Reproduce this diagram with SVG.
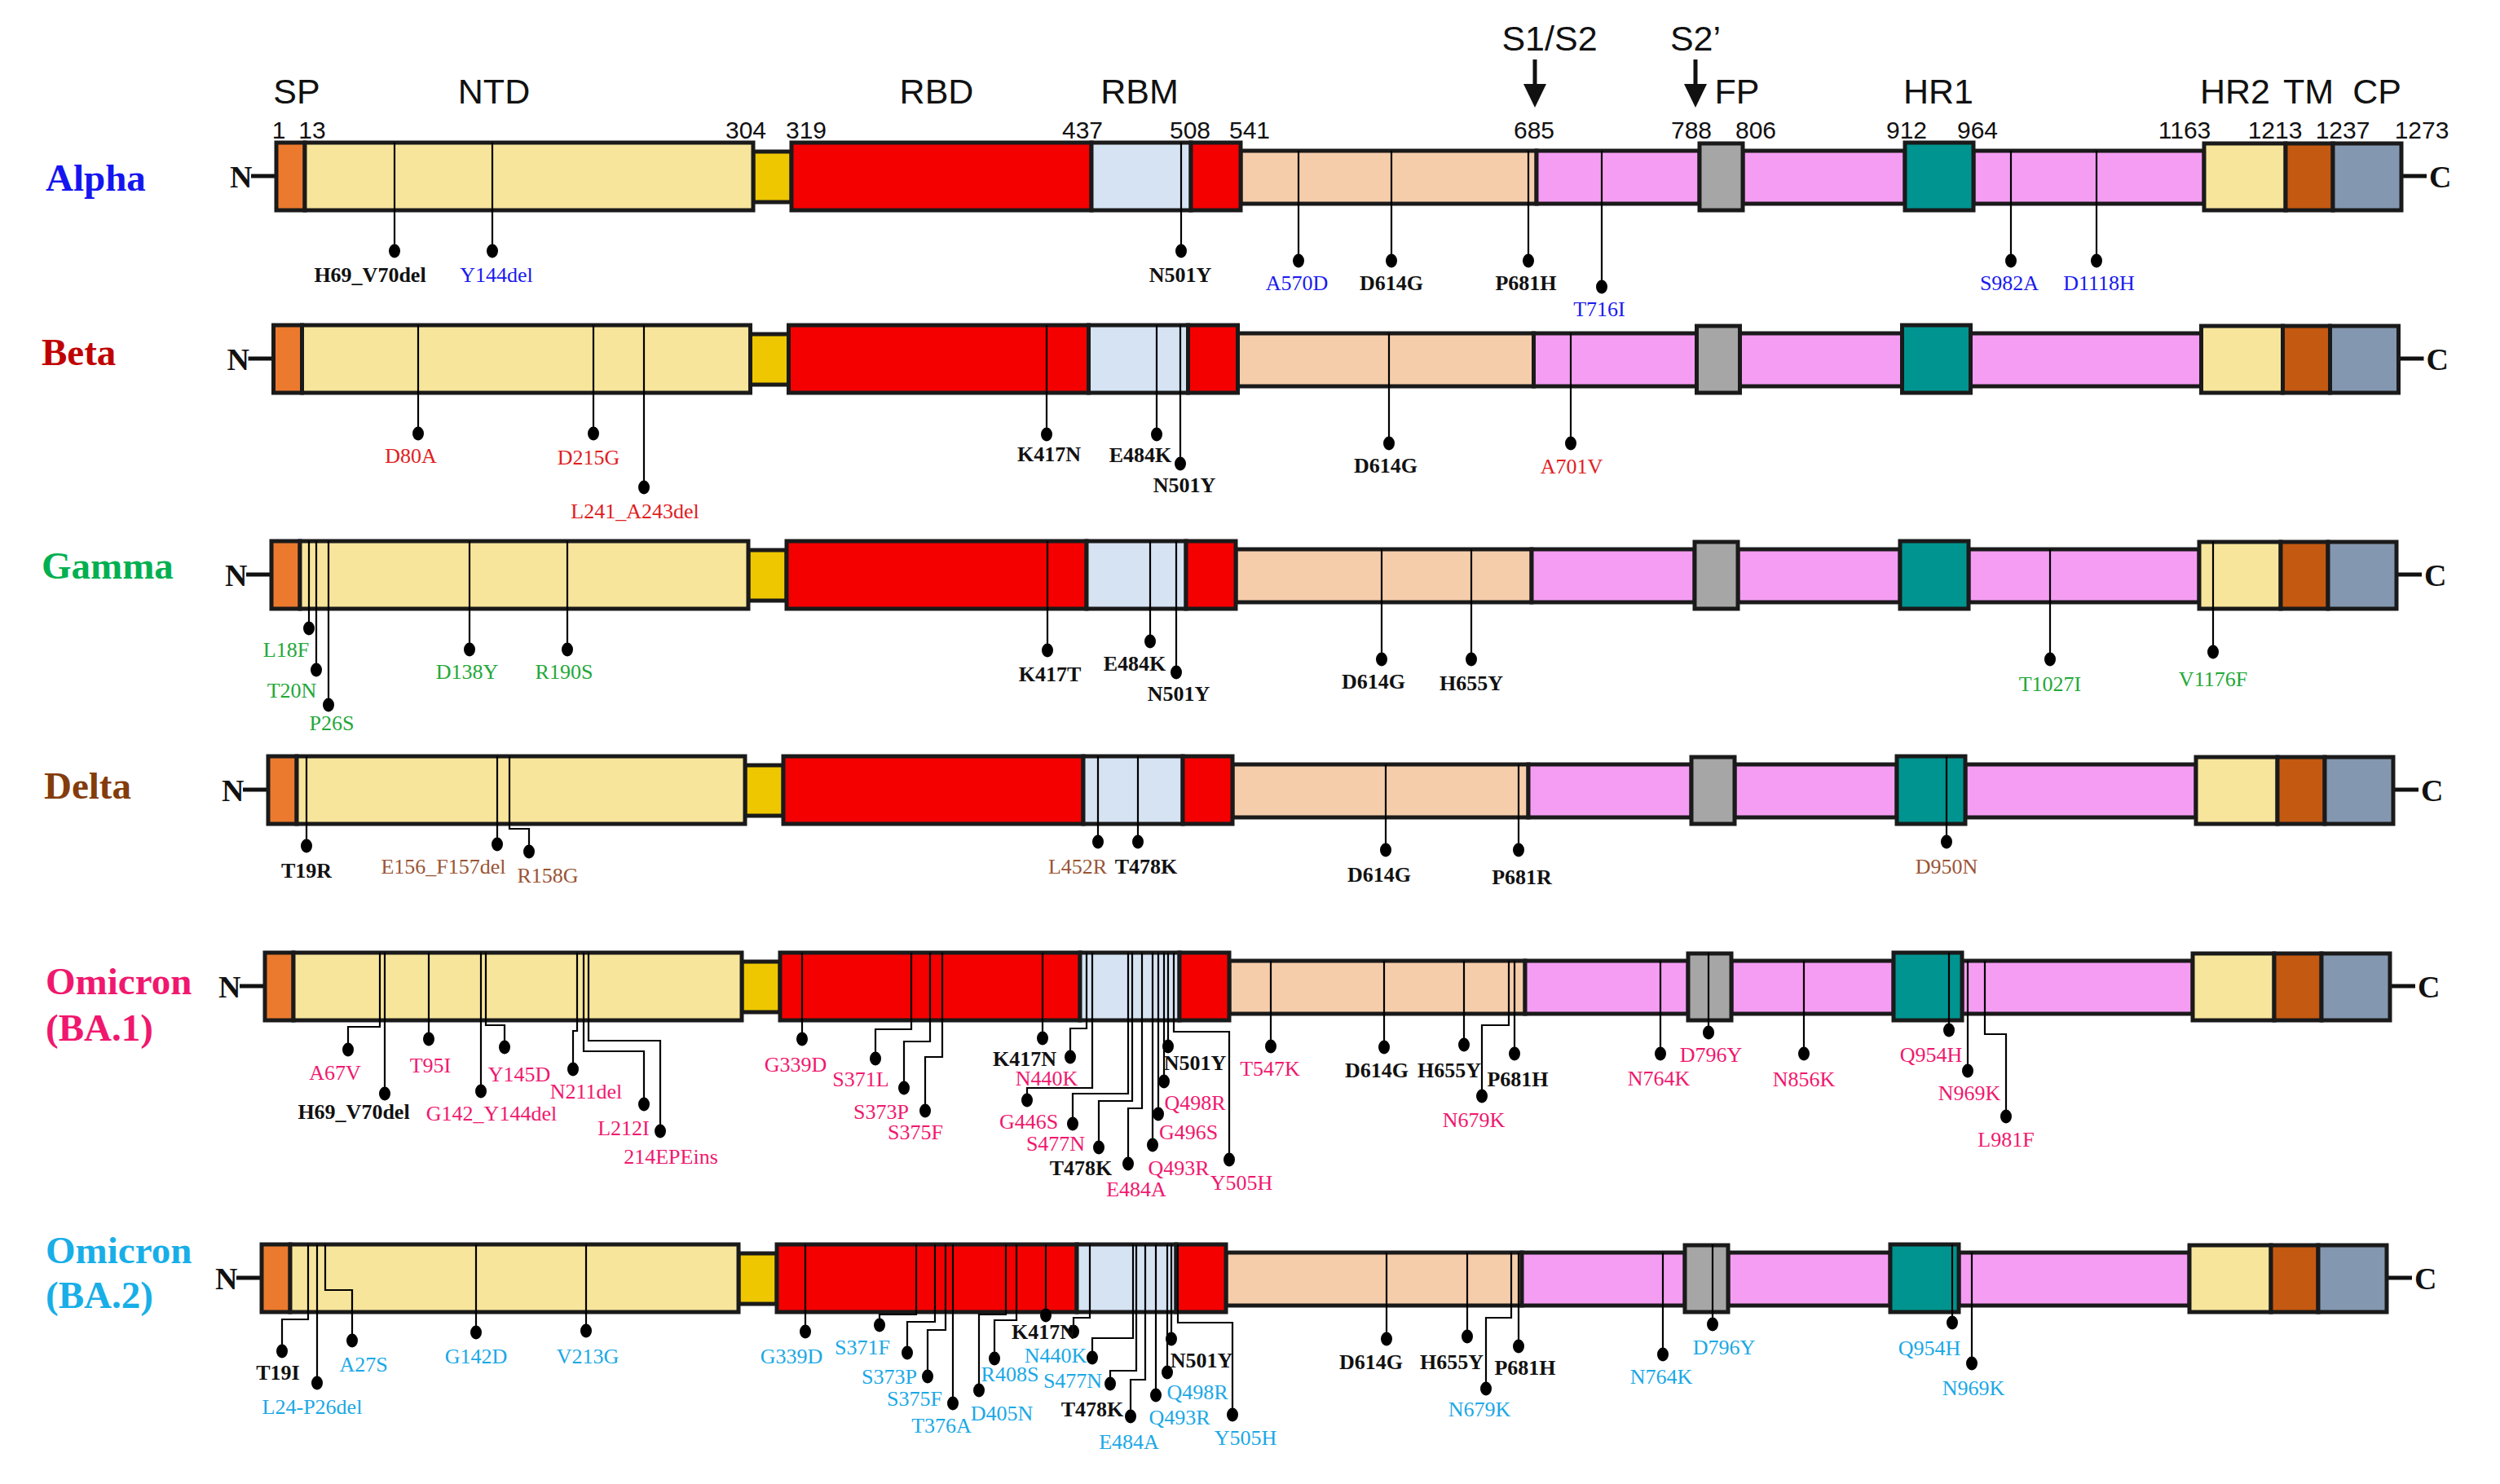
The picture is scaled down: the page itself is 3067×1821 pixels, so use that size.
<svg xmlns="http://www.w3.org/2000/svg" xmlns:xlink="http://www.w3.org/1999/xlink" width="3067" height="1821" viewBox="0 0 3067 1821">
<style>
.seg{stroke:#1a1a1a;stroke-width:5}
.sp{fill:#EC7A2E}.ntd{fill:#F7E59B}.lnk{fill:#EEC700}.rbd{fill:#F40000}.rbm{fill:#D5E3F3}.pch{fill:#F6CDAB}.pnk{fill:#F59DF3}.fp{fill:#A6A6A6}.hr1{fill:#009490}.tm{fill:#C45911}.cp{fill:#8497B0}
.nc{font-family:"Liberation Serif",serif;font-weight:bold;font-size:38px;fill:#111}
.hd{font-family:"Liberation Sans",Arial,sans-serif;font-size:43px;fill:#111;text-anchor:middle}
.num{font-family:"Liberation Sans",Arial,sans-serif;font-size:30px;fill:#111;text-anchor:middle}
.title{font-family:"Liberation Serif",serif;font-weight:bold;font-size:47px}
.ml{fill:none;stroke:#000;stroke-width:2.2}
.lb{font-family:"Liberation Serif",serif;font-size:26px;text-anchor:middle}
.bk{font-weight:bold;fill:#111}
.blu{fill:#1a1aee}.red{fill:#e0201e}.grn{fill:#22a838}.brn{fill:#9a5535}.pk{fill:#f0186e}.cy{fill:#1aa8e6}
</style>
<defs>
<g id="spike">
<line x1="308" y1="41" x2="339" y2="41" stroke="#111" stroke-width="5"/>
<text class="nc" x="282" y="55">N</text>
<line x1="2946" y1="41" x2="2977" y2="41" stroke="#111" stroke-width="5"/>
<text class="nc" x="2980" y="55">C</text>
<rect class="seg lnk" x="924" y="11" width="47" height="62"/>
<rect class="seg pch" x="1522" y="10" width="363" height="65"/>
<rect class="seg pnk" x="1885" y="10" width="200" height="65"/>
<rect class="seg pnk" x="2138" y="10" width="199" height="65"/>
<rect class="seg pnk" x="2421" y="10" width="283" height="65"/>
<rect class="seg sp" x="339" y="0" width="35" height="83"/>
<rect class="seg ntd" x="374" y="0" width="550" height="83"/>
<rect class="seg rbd" x="971" y="0" width="368" height="83"/>
<rect class="seg rbm" x="1339" y="0" width="122" height="83"/>
<rect class="seg rbd" x="1461" y="0" width="61" height="83"/>
<rect class="seg fp" x="2085" y="1" width="53" height="82"/>
<rect class="seg hr1" x="2337" y="0" width="84" height="83"/>
<rect class="seg ntd" x="2704" y="1" width="100" height="82"/>
<rect class="seg tm" x="2804" y="1" width="58" height="82"/>
<rect class="seg cp" x="2862" y="1" width="84" height="82"/>
</g>
</defs>
<rect width="3067" height="1821" fill="#fff"/>

<g id="header">
<text class="hd" x="1901" y="62">S1/S2</text>
<text class="hd" x="2080" y="62">S2’</text>
<line x1="1883" y1="73" x2="1883" y2="108" stroke="#111" stroke-width="5"/>
<polygon points="1869,103 1897,103 1883,132" fill="#111"/>
<line x1="2080" y1="73" x2="2080" y2="108" stroke="#111" stroke-width="5"/>
<polygon points="2066,103 2094,103 2080,132" fill="#111"/>
<text class="hd" x="364" y="127">SP</text>
<text class="hd" x="606" y="127">NTD</text>
<text class="hd" x="1149" y="127">RBD</text>
<text class="hd" x="1398" y="127">RBM</text>
<text class="hd" x="2131" y="127">FP</text>
<text class="hd" x="2378" y="127">HR1</text>
<text class="hd" x="2742" y="127">HR2</text>
<text class="hd" x="2832" y="127">TM</text>
<text class="hd" x="2916" y="127">CP</text>
<text class="num" x="342" y="170">1</text>
<text class="num" x="383" y="170">13</text>
<text class="num" x="915" y="170">304</text>
<text class="num" x="989" y="170">319</text>
<text class="num" x="1328" y="170">437</text>
<text class="num" x="1460" y="170">508</text>
<text class="num" x="1533" y="170">541</text>
<text class="num" x="1882" y="170">685</text>
<text class="num" x="2075" y="170">788</text>
<text class="num" x="2154" y="170">806</text>
<text class="num" x="2339" y="170">912</text>
<text class="num" x="2426" y="170">964</text>
<text class="num" x="2680" y="170">1163</text>
<text class="num" x="2791" y="170">1213</text>
<text class="num" x="2874" y="170">1237</text>
<text class="num" x="2971" y="170">1273</text>
</g>

<g id="row-alpha">
<text class="title" x="56" y="234" fill="#1515f0">Alpha</text>
<use xlink:href="#spike" href="#spike" transform="translate(0,175)"/>
</g>
<g id="row-beta">
<text class="title" x="51" y="448" fill="#c00000">Beta</text>
<use xlink:href="#spike" href="#spike" transform="translate(-3.5,399)"/>
</g>
<g id="row-gamma">
<text class="title" x="51" y="710" fill="#00b050">Gamma</text>
<use xlink:href="#spike" href="#spike" transform="translate(-6,664)"/>
</g>
<g id="row-delta">
<text class="title" x="54" y="980" fill="#843c0c">Delta</text>
<use xlink:href="#spike" href="#spike" transform="translate(-10,928)"/>
</g>
<g id="row-ba1">
<text class="title" x="56" y="1220" fill="#f0186e">Omicron</text>
<text class="title" x="56" y="1277" fill="#f0186e">(BA.1)</text>
<use xlink:href="#spike" href="#spike" transform="translate(-14,1169)"/>
</g>
<g id="row-ba2">
<text class="title" x="56" y="1550" fill="#18aee8">Omicron</text>
<text class="title" x="56" y="1605" fill="#18aee8">(BA.2)</text>
<use xlink:href="#spike" href="#spike" transform="translate(-18,1527)"/>
</g>

<g id="connectors">
<g class="ml">
<!-- Alpha -->
<path d="M484,175V308M604,175V308M1449,175V308M1593,185V320M1707,185V320M1875,185V320M1965,185V352M2467,185V320M2572,185V320"/>
<!-- Beta -->
<path d="M513,399V532M728,399V532M790,399V598M1284,399V533M1419,399V533M1448,399V569M1704,409V544M1927,409V544"/>
<!-- Gamma -->
<path d="M379,664V771M388,664V822M403,664V865M576,664V797M696,664V797M1285,664V798M1411,664V787M1443,664V825M1695,674V809M1805,674V809M2515,674V809M2715,664V800"/>
<!-- Delta -->
<path d="M376,928V1038M610,928V1036M625,928V1017H649V1045M1347,928V1033M1396,928V1033M1700,938V1043M1863,938V1043M2388,928V1033"/>
<!-- BA.1 -->
<path d="M466,1169V1260H427V1288M472,1169V1342M526,1169V1275M590,1169V1339M596,1169V1258H619V1285M708,1169V1265H703V1312M716,1169V1290H790V1355M722,1169V1277H810V1388"/>
<path d="M984,1169V1275M1118,1169V1263H1074V1299M1141,1169V1278H1109V1335M1156,1169V1297H1135V1363M1279,1169V1274M1333,1169V1262H1313V1297M1340,1169V1335H1260V1350M1384,1169V1342H1316V1379M1389,1169V1351H1348V1408M1401,1169V1360H1384V1428M1414,1169V1405M1421,1169V1367M1428,1169V1327M1433,1169V1284M1440,1169V1266H1508V1423"/>
<path d="M1559,1179V1284M1698,1179V1285M1796,1179V1282M1851,1179V1258H1818V1345M1858,1179V1293M2037,1179V1293M2096,1169V1267M2213,1179V1293M2391,1169V1264M2414,1179V1314M2435,1179V1269H2461V1370"/>
<!-- BA.2 -->
<path d="M378,1527V1619H346V1658M389,1527V1697M399,1527V1583H432V1645M584,1527V1635M719,1527V1633"/>
<path d="M988,1527V1634M1124,1527V1613H1079V1626M1147,1527V1622H1113V1660M1160,1527V1632H1138V1689M1169,1527V1722M1234,1527V1613H1201V1706M1247,1527V1620H1220V1667M1283,1527V1614M1337,1527V1617H1317V1634M1390,1527V1642H1340V1666M1394,1527V1682H1362V1698M1405,1527V1693H1387V1738M1418,1527V1712M1432,1527V1684M1437,1527V1643M1445,1527V1623H1512V1736"/>
<path d="M1701,1537V1643M1800,1537V1640M1854,1537V1617H1823V1704M1863,1537V1652M2040,1537V1662M2101,1527V1625M2395,1527V1623M2419,1537V1673"/>
</g>
<g fill="#000">
<ellipse cx="484" cy="308" rx="7" ry="8.5"/><ellipse cx="604" cy="308" rx="7" ry="8.5"/><ellipse cx="1449" cy="308" rx="7" ry="8.5"/><ellipse cx="1593" cy="320" rx="7" ry="8.5"/><ellipse cx="1707" cy="320" rx="7" ry="8.5"/><ellipse cx="1875" cy="320" rx="7" ry="8.5"/><ellipse cx="1965" cy="352" rx="7" ry="8.5"/><ellipse cx="2467" cy="320" rx="7" ry="8.5"/><ellipse cx="2572" cy="320" rx="7" ry="8.5"/>
<ellipse cx="513" cy="532" rx="7" ry="8.5"/><ellipse cx="728" cy="532" rx="7" ry="8.5"/><ellipse cx="790" cy="598" rx="7" ry="8.5"/><ellipse cx="1284" cy="533" rx="7" ry="8.5"/><ellipse cx="1419" cy="533" rx="7" ry="8.5"/><ellipse cx="1448" cy="569" rx="7" ry="8.5"/><ellipse cx="1704" cy="544" rx="7" ry="8.5"/><ellipse cx="1927" cy="544" rx="7" ry="8.5"/>
<ellipse cx="379" cy="771" rx="7" ry="8.5"/><ellipse cx="388" cy="822" rx="7" ry="8.5"/><ellipse cx="403" cy="865" rx="7" ry="8.5"/><ellipse cx="576" cy="797" rx="7" ry="8.5"/><ellipse cx="696" cy="797" rx="7" ry="8.5"/><ellipse cx="1285" cy="798" rx="7" ry="8.5"/><ellipse cx="1411" cy="787" rx="7" ry="8.5"/><ellipse cx="1443" cy="825" rx="7" ry="8.5"/><ellipse cx="1695" cy="809" rx="7" ry="8.5"/><ellipse cx="1805" cy="809" rx="7" ry="8.5"/><ellipse cx="2515" cy="809" rx="7" ry="8.5"/><ellipse cx="2715" cy="800" rx="7" ry="8.5"/>
<ellipse cx="376" cy="1038" rx="7" ry="8.5"/><ellipse cx="610" cy="1036" rx="7" ry="8.5"/><ellipse cx="649" cy="1045" rx="7" ry="8.5"/><ellipse cx="1347" cy="1033" rx="7" ry="8.5"/><ellipse cx="1396" cy="1033" rx="7" ry="8.5"/><ellipse cx="1700" cy="1043" rx="7" ry="8.5"/><ellipse cx="1863" cy="1043" rx="7" ry="8.5"/><ellipse cx="2388" cy="1033" rx="7" ry="8.5"/>
<ellipse cx="427" cy="1288" rx="7" ry="8.5"/><ellipse cx="472" cy="1342" rx="7" ry="8.5"/><ellipse cx="526" cy="1275" rx="7" ry="8.5"/><ellipse cx="590" cy="1339" rx="7" ry="8.5"/><ellipse cx="619" cy="1285" rx="7" ry="8.5"/><ellipse cx="703" cy="1312" rx="7" ry="8.5"/><ellipse cx="790" cy="1355" rx="7" ry="8.5"/><ellipse cx="810" cy="1388" rx="7" ry="8.5"/>
<ellipse cx="984" cy="1275" rx="7" ry="8.5"/><ellipse cx="1074" cy="1299" rx="7" ry="8.5"/><ellipse cx="1109" cy="1335" rx="7" ry="8.5"/><ellipse cx="1135" cy="1363" rx="7" ry="8.5"/><ellipse cx="1279" cy="1274" rx="7" ry="8.5"/><ellipse cx="1313" cy="1297" rx="7" ry="8.5"/><ellipse cx="1260" cy="1350" rx="7" ry="8.5"/><ellipse cx="1316" cy="1379" rx="7" ry="8.5"/><ellipse cx="1348" cy="1408" rx="7" ry="8.5"/><ellipse cx="1384" cy="1428" rx="7" ry="8.5"/><ellipse cx="1414" cy="1405" rx="7" ry="8.5"/><ellipse cx="1421" cy="1367" rx="7" ry="8.5"/><ellipse cx="1428" cy="1327" rx="7" ry="8.5"/><ellipse cx="1433" cy="1284" rx="7" ry="8.5"/><ellipse cx="1508" cy="1423" rx="7" ry="8.5"/>
<ellipse cx="1559" cy="1284" rx="7" ry="8.5"/><ellipse cx="1698" cy="1285" rx="7" ry="8.5"/><ellipse cx="1796" cy="1282" rx="7" ry="8.5"/><ellipse cx="1818" cy="1345" rx="7" ry="8.5"/><ellipse cx="1858" cy="1293" rx="7" ry="8.5"/><ellipse cx="2037" cy="1293" rx="7" ry="8.5"/><ellipse cx="2096" cy="1267" rx="7" ry="8.5"/><ellipse cx="2213" cy="1293" rx="7" ry="8.5"/><ellipse cx="2391" cy="1264" rx="7" ry="8.5"/><ellipse cx="2414" cy="1314" rx="7" ry="8.5"/><ellipse cx="2461" cy="1370" rx="7" ry="8.5"/>
<ellipse cx="346" cy="1658" rx="7" ry="8.5"/><ellipse cx="389" cy="1697" rx="7" ry="8.5"/><ellipse cx="432" cy="1645" rx="7" ry="8.5"/><ellipse cx="584" cy="1635" rx="7" ry="8.5"/><ellipse cx="719" cy="1633" rx="7" ry="8.5"/>
<ellipse cx="988" cy="1634" rx="7" ry="8.5"/><ellipse cx="1079" cy="1626" rx="7" ry="8.5"/><ellipse cx="1113" cy="1660" rx="7" ry="8.5"/><ellipse cx="1138" cy="1689" rx="7" ry="8.5"/><ellipse cx="1169" cy="1722" rx="7" ry="8.5"/><ellipse cx="1201" cy="1706" rx="7" ry="8.5"/><ellipse cx="1220" cy="1667" rx="7" ry="8.5"/><ellipse cx="1283" cy="1614" rx="7" ry="8.5"/><ellipse cx="1317" cy="1634" rx="7" ry="8.5"/><ellipse cx="1340" cy="1666" rx="7" ry="8.5"/><ellipse cx="1362" cy="1698" rx="7" ry="8.5"/><ellipse cx="1387" cy="1738" rx="7" ry="8.5"/><ellipse cx="1418" cy="1712" rx="7" ry="8.5"/><ellipse cx="1432" cy="1684" rx="7" ry="8.5"/><ellipse cx="1437" cy="1643" rx="7" ry="8.5"/><ellipse cx="1512" cy="1736" rx="7" ry="8.5"/>
<ellipse cx="1701" cy="1643" rx="7" ry="8.5"/><ellipse cx="1800" cy="1640" rx="7" ry="8.5"/><ellipse cx="1823" cy="1704" rx="7" ry="8.5"/><ellipse cx="1863" cy="1652" rx="7" ry="8.5"/><ellipse cx="2040" cy="1662" rx="7" ry="8.5"/><ellipse cx="2101" cy="1625" rx="7" ry="8.5"/><ellipse cx="2395" cy="1623" rx="7" ry="8.5"/><ellipse cx="2419" cy="1673" rx="7" ry="8.5"/>
</g>
</g>

<g id="labels-alpha" class="lb">
<text class="bk" x="454" y="346">H69_V70del</text>
<text class="blu" x="609" y="346">Y144del</text>
<text class="bk" x="1448" y="346">N501Y</text>
<text class="blu" x="1591" y="356">A570D</text>
<text class="bk" x="1707" y="356">D614G</text>
<text class="bk" x="1872" y="356">P681H</text>
<text class="blu" x="1962" y="388">T716I</text>
<text class="blu" x="2465" y="356">S982A</text>
<text class="blu" x="2575" y="356">D1118H</text>
</g>
<g id="labels-beta" class="lb">
<text class="red" x="504" y="568">D80A</text>
<text class="red" x="722" y="570">D215G</text>
<text class="red" x="779" y="636">L241_A243del</text>
<text class="bk" x="1287" y="566">K417N</text>
<text class="bk" x="1399" y="567">E484K</text>
<text class="bk" x="1453" y="604">N501Y</text>
<text class="bk" x="1700" y="580">D614G</text>
<text class="red" x="1928" y="581">A701V</text>
</g>
<g id="labels-gamma" class="lb">
<text class="grn" x="351" y="806">L18F</text>
<text class="grn" x="358" y="856">T20N</text>
<text class="grn" x="407" y="896">P26S</text>
<text class="grn" x="573" y="833">D138Y</text>
<text class="grn" x="692" y="833">R190S</text>
<text class="bk" x="1288" y="836">K417T</text>
<text class="bk" x="1392" y="823">E484K</text>
<text class="bk" x="1446" y="860">N501Y</text>
<text class="bk" x="1685" y="845">D614G</text>
<text class="bk" x="1805" y="847">H655Y</text>
<text class="grn" x="2515" y="848">T1027I</text>
<text class="grn" x="2715" y="842">V1176F</text>
</g>
<g id="labels-delta" class="lb">
<text class="bk" x="376" y="1077">T19R</text>
<text class="brn" x="544" y="1072">E156_F157del</text>
<text class="brn" x="672" y="1083">R158G</text>
<text class="brn" x="1322" y="1072">L452R</text>
<text class="bk" x="1406" y="1072">T478K</text>
<text class="bk" x="1692" y="1082">D614G</text>
<text class="bk" x="1867" y="1085">P681R</text>
<text class="brn" x="2388" y="1072">D950N</text>
</g>
<g id="labels-ba1" class="lb">
<text class="pk" x="411" y="1325">A67V</text>
<text class="bk" x="434" y="1373">H69_V70del</text>
<text class="pk" x="528" y="1316">T95I</text>
<text class="pk" x="603" y="1375">G142_Y144del</text>
<text class="pk" x="637" y="1327">Y145D</text>
<text class="pk" x="719" y="1348">N211del</text>
<text class="pk" x="765" y="1393">L212I</text>
<text class="pk" x="823" y="1428">214EPEins</text>
<text class="pk" x="976" y="1315">G339D</text>
<text class="pk" x="1056" y="1333">S371L</text>
<text class="pk" x="1081" y="1373">S373P</text>
<text class="pk" x="1123" y="1398">S375F</text>
<text class="bk" x="1257" y="1308">K417N</text>
<text class="pk" x="1284" y="1332">N440K</text>
<text class="pk" x="1262" y="1385">G446S</text>
<text class="pk" x="1295" y="1412">S477N</text>
<text class="bk" x="1326" y="1442">T478K</text>
<text class="pk" x="1394" y="1468">E484A</text>
<text class="pk" x="1446" y="1442">Q493R</text>
<text class="pk" x="1458" y="1398">G496S</text>
<text class="pk" x="1466" y="1362">Q498R</text>
<text class="bk" x="1466" y="1313">N501Y</text>
<text class="pk" x="1523" y="1460">Y505H</text>
<text class="pk" x="1558" y="1320">T547K</text>
<text class="bk" x="1689" y="1322">D614G</text>
<text class="bk" x="1778" y="1322">H655Y</text>
<text class="pk" x="1808" y="1383">N679K</text>
<text class="bk" x="1862" y="1333">P681H</text>
<text class="pk" x="2035" y="1332">N764K</text>
<text class="pk" x="2099" y="1303">D796Y</text>
<text class="pk" x="2213" y="1333">N856K</text>
<text class="pk" x="2369" y="1303">Q954H</text>
<text class="pk" x="2416" y="1350">N969K</text>
<text class="pk" x="2461" y="1407">L981F</text>
</g>
<g id="labels-ba2" class="lb">
<text class="bk" x="341" y="1693">T19I</text>
<text class="cy" x="383" y="1735">L24-P26del</text>
<text class="cy" x="446" y="1683">A27S</text>
<text class="cy" x="584" y="1673">G142D</text>
<text class="cy" x="721" y="1673">V213G</text>
<text class="cy" x="971" y="1673">G339D</text>
<text class="cy" x="1058" y="1662">S371F</text>
<text class="cy" x="1091" y="1698">S373P</text>
<text class="cy" x="1122" y="1725">S375F</text>
<text class="cy" x="1155" y="1758">T376A</text>
<text class="cy" x="1229" y="1743">D405N</text>
<text class="cy" x="1239" y="1695">R408S</text>
<text class="bk" x="1280" y="1643">K417N</text>
<text class="cy" x="1295" y="1672">N440K</text>
<text class="cy" x="1316" y="1703">S477N</text>
<text class="bk" x="1340" y="1738">T478K</text>
<text class="cy" x="1385" y="1778">E484A</text>
<text class="cy" x="1447" y="1748">Q493R</text>
<text class="cy" x="1469" y="1717">Q498R</text>
<text class="bk" x="1474" y="1678">N501Y</text>
<text class="cy" x="1528" y="1773">Y505H</text>
<text class="bk" x="1682" y="1680">D614G</text>
<text class="bk" x="1781" y="1680">H655Y</text>
<text class="cy" x="1815" y="1738">N679K</text>
<text class="bk" x="1871" y="1687">P681H</text>
<text class="cy" x="2038" y="1698">N764K</text>
<text class="cy" x="2115" y="1662">D796Y</text>
<text class="cy" x="2367" y="1663">Q954H</text>
<text class="cy" x="2421" y="1712">N969K</text>
</g>
</svg>
